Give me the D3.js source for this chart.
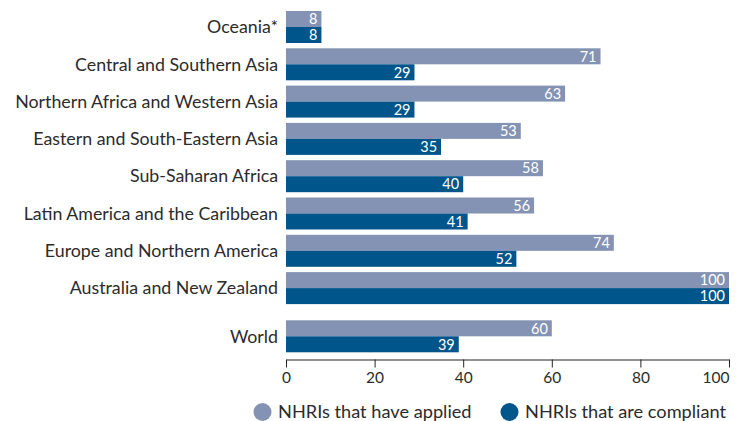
<!DOCTYPE html>
<html>
<head>
<meta charset="utf-8">
<script src="https://cdn.jsdelivr.net/npm/d3@7"></script>
<style>
  body { margin: 0; background: #fff; }
  svg { display: block; font-family: Lato, "Open Sans", sans-serif; }
</style>
</head>
<body>
<svg id="chart" width="745" height="421"></svg>
<script>
// Regions, listed top to bottom; "World" is set apart at the bottom
const regions = [
  "Oceania*",
  "Central and Southern Asia",
  "Northern Africa and Western Asia",
  "Eastern and South-Eastern Asia",
  "Sub-Saharan Africa",
  "Latin America and the Caribbean",
  "Europe and Northern America",
  "Australia and New Zealand",
  "World"
];
// Share of countries (%)
const applied   = [8, 71, 63, 53, 58, 56, 74, 100, 60];
const compliant = [8, 29, 29, 35, 40, 41, 52, 100, 39];
const seriesNames = ["NHRIs that have applied", "NHRIs that are compliant"];
const xTicks = [0, 20, 40, 60, 80, 100];

const colors = ["#8493b4", "#00558b"];
const textColor = "#2b2b2b";

const svg = d3.select("#chart");
const left = 286, right = 729;
const barH = 16;
const step = 37.3;
const worldExtra = 10.9; // additional space before the World group

const x = d3.scaleLinear().domain([0, 100]).range([left, right]);
// vertical slot position of each group
const slot = d3.scaleLinear().domain([0, 1]).range([11, 11 + step]);
const groupTop = (i) => slot(i) + (regions[i] === "World" ? worldExtra : 0);

const rows = regions.map((r, i) => ({ region: r, i, values: [applied[i], compliant[i]] }));

const g = svg.append("g");
const groups = g.selectAll("g.row").data(rows).join("g")
  .attr("class", "row")
  .attr("transform", d => `translate(0,${groupTop(d.i)})`);

groups.append("text")
  .attr("x", left - 8)
  .attr("y", barH)
  .attr("dy", "0.35em")
  .attr("text-anchor", "end")
  .attr("fill", textColor)
  .style("font-size", "17.8px")
  .text(d => d.region);

const bars = groups.selectAll("g.bar")
  .data(d => d.values.map((v, k) => ({ v, k })))
  .join("g").attr("class", "bar");

bars.append("rect")
  .attr("x", x(0))
  .attr("y", d => d.k * barH)
  .attr("width", d => x(d.v) - x(0))
  .attr("height", barH)
  .attr("fill", d => colors[d.k]);

bars.append("text")
  .attr("x", d => x(d.v) - 4)
  .attr("y", d => d.k * barH + barH / 2)
  .attr("dy", "0.36em")
  .attr("text-anchor", "end")
  .attr("fill", "#fff")
  .style("font-size", "14.5px")
  .text(d => d.v);

// x axis
const axisY = 359.5;
const axis = svg.append("g")
  .attr("transform", `translate(0,${axisY})`)
  .call(d3.axisBottom(x).tickValues(xTicks).tickSize(8).tickPadding(4).tickSizeOuter(0));
axis.select(".domain").attr("stroke", "#222").attr("stroke-width", 1.2);
axis.selectAll(".tick line").attr("stroke", "#222");
axis.selectAll(".tick text")
  .attr("fill", textColor)
  .style("font-family", "Lato, 'Open Sans', sans-serif")
  .style("font-size", "15.5px")
  .attr("text-anchor", d => d === 100 ? "end" : "middle");

// legend
const legendY = 412;
const legendItems = [{ cx: 262.5 }, { cx: 509.5 }];
const legend = svg.append("g").selectAll("g").data(seriesNames).join("g")
  .attr("transform", (d, k) => `translate(${legendItems[k].cx},${legendY})`);
legend.append("circle").attr("r", 9).attr("fill", (d, k) => colors[k]);
legend.append("text")
  .attr("x", 15.5)
  .attr("dy", "0.35em")
  .attr("fill", textColor)
  .style("font-size", "18.2px")
  .text(d => d);
</script>
</body>
</html>
